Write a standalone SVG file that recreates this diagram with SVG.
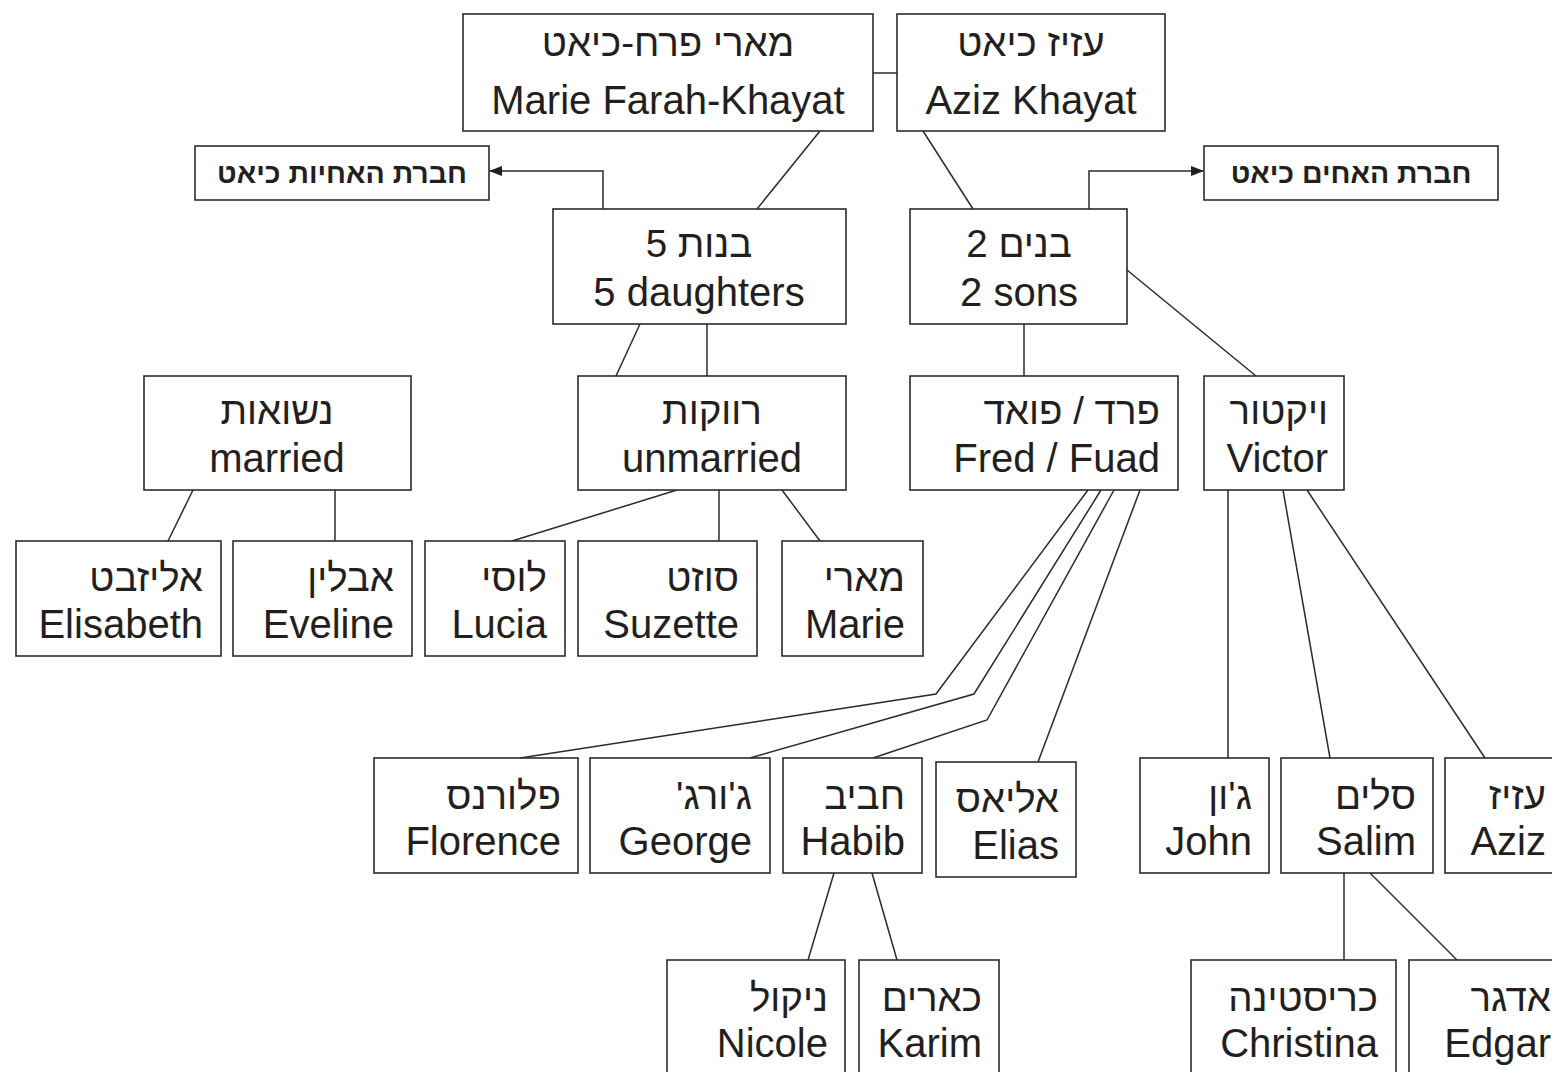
<svg xmlns="http://www.w3.org/2000/svg" width="1552" height="1072" viewBox="0 0 1552 1072">
<defs>
<style>
.b{fill:#fff;stroke:#2b2b2b;stroke-width:1.6}
.t{font-family:"Liberation Sans","Noto Sans",Arial,sans-serif;font-size:40px;fill:#231f20}
.h{font-size:38.5px}
.c{text-anchor:middle}
.e{text-anchor:end}
.k{font-family:"Liberation Sans","DejaVu Sans",Arial,sans-serif;font-size:28.5px;font-weight:bold;fill:#231f20;text-anchor:middle}
.l{fill:none;stroke:#2b2b2b;stroke-width:1.5}
</style>
<marker id="ar" markerWidth="13" markerHeight="10" refX="12" refY="5" orient="auto" markerUnits="userSpaceOnUse">
<path d="M0,0 L13,5 L0,10 Z" fill="#231f20"/>
</marker>
</defs>
<rect width="1552" height="1072" fill="#fff"/>
<g id="connectors">
<line class="l" x1="873" y1="73" x2="897" y2="73"/>
<line class="l" x1="820" y1="131" x2="757" y2="209"/>
<line class="l" x1="923" y1="131" x2="973" y2="209"/>
<polyline class="l" points="603,209 603,171 490,171" marker-end="url(#ar)"/>
<polyline class="l" points="1089,209 1089,171 1203,171" marker-end="url(#ar)"/>
<line class="l" x1="640" y1="324" x2="616" y2="376"/>
<line class="l" x1="707" y1="324" x2="707" y2="376"/>
<line class="l" x1="1024" y1="324" x2="1024" y2="376"/>
<line class="l" x1="1127" y1="270" x2="1256" y2="376"/>
<line class="l" x1="193" y1="490" x2="168" y2="541"/>
<line class="l" x1="335" y1="490" x2="335" y2="541"/>
<line class="l" x1="677" y1="490" x2="512" y2="541"/>
<line class="l" x1="719" y1="490" x2="719" y2="541"/>
<line class="l" x1="782" y1="490" x2="820" y2="541"/>
<polyline class="l" points="1088,490 936,694 520,758"/>
<polyline class="l" points="1101,490 974,694 750,758"/>
<polyline class="l" points="1114,490 987,720 873,758"/>
<line class="l" x1="1140" y1="490" x2="1038" y2="762"/>
<line class="l" x1="1228" y1="490" x2="1228" y2="758"/>
<line class="l" x1="1283" y1="490" x2="1330" y2="758"/>
<line class="l" x1="1307" y1="490" x2="1485" y2="758"/>
<line class="l" x1="834" y1="873" x2="808" y2="960"/>
<line class="l" x1="872" y1="873" x2="897" y2="960"/>
<line class="l" x1="1344" y1="873" x2="1344" y2="960"/>
<line class="l" x1="1370" y1="873" x2="1457" y2="960"/>
</g>
<g id="marie-farah-khayat">
<rect class="b" x="463" y="14" width="410" height="117"/>
<text class="t h c" x="668" y="56">מארי פרח-כיאט</text>
<text class="t c" x="668" y="114">Marie Farah-Khayat</text>
</g>
<g id="aziz-khayat">
<rect class="b" x="897" y="14" width="268" height="117"/>
<text class="t h c" x="1031" y="56">עזיז כיאט</text>
<text class="t c" x="1031" y="114">Aziz Khayat</text>
</g>
<g id="sisters-company">
<rect class="b" x="195" y="146" width="294" height="54"/>
<text class="k" x="342" y="183">חברת האחיות כיאט</text>
</g>
<g id="brothers-company">
<rect class="b" x="1204" y="146" width="294" height="54"/>
<text class="k" x="1351" y="183">חברת האחים כיאט</text>
</g>
<g id="daughters">
<rect class="b" x="553" y="209" width="293" height="115"/>
<text class="t h c" x="699" y="257">5 בנות</text>
<text class="t c" x="699" y="306">5 daughters</text>
</g>
<g id="sons">
<rect class="b" x="910" y="209" width="217" height="115"/>
<text class="t h c" x="1019" y="257">2 בנים</text>
<text class="t c" x="1019" y="306">2 sons</text>
</g>
<g id="married">
<rect class="b" x="144" y="376" width="267" height="114"/>
<text class="t h c" x="277" y="424">נשואות</text>
<text class="t c" x="277" y="472">married</text>
</g>
<g id="unmarried">
<rect class="b" x="578" y="376" width="268" height="114"/>
<text class="t h c" x="712" y="424">רווקות</text>
<text class="t c" x="712" y="472">unmarried</text>
</g>
<g id="fred-fuad">
<rect class="b" x="910" y="376" width="268" height="114"/>
<text class="t h e" x="1160" y="424">פרד / פואד</text>
<text class="t e" x="1160" y="472">Fred / Fuad</text>
</g>
<g id="victor">
<rect class="b" x="1204" y="376" width="140" height="114"/>
<text class="t h e" x="1328" y="424">ויקטור</text>
<text class="t e" x="1328" y="472">Victor</text>
</g>
<g id="elisabeth">
<rect class="b" x="16" y="541" width="205" height="115"/>
<text class="t h e" x="203" y="591">אליזבט</text>
<text class="t e" x="203" y="638">Elisabeth</text>
</g>
<g id="eveline">
<rect class="b" x="233" y="541" width="179" height="115"/>
<text class="t h e" x="394" y="591">אבלין</text>
<text class="t e" x="394" y="638">Eveline</text>
</g>
<g id="lucia">
<rect class="b" x="425" y="541" width="140" height="115"/>
<text class="t h e" x="547" y="591">לוסי</text>
<text class="t e" x="547" y="638">Lucia</text>
</g>
<g id="suzette">
<rect class="b" x="578" y="541" width="179" height="115"/>
<text class="t h e" x="739" y="591">סוזט</text>
<text class="t e" x="739" y="638">Suzette</text>
</g>
<g id="marie">
<rect class="b" x="782" y="541" width="141" height="115"/>
<text class="t h e" x="905" y="591">מארי</text>
<text class="t e" x="905" y="638">Marie</text>
</g>
<g id="florence">
<rect class="b" x="374" y="758" width="204" height="115"/>
<text class="t h e" x="561" y="809">פלורנס</text>
<text class="t e" x="561" y="855">Florence</text>
</g>
<g id="george">
<rect class="b" x="590" y="758" width="180" height="115"/>
<text class="t h e" x="752" y="809">ג'ורג'&#x200F;</text>
<text class="t e" x="752" y="855">George</text>
</g>
<g id="habib">
<rect class="b" x="783" y="758" width="139" height="115"/>
<text class="t h e" x="905" y="809">חביב</text>
<text class="t e" x="905" y="855">Habib</text>
</g>
<g id="elias">
<rect class="b" x="936" y="762" width="140" height="115"/>
<text class="t h e" x="1059" y="812">אליאס</text>
<text class="t e" x="1059" y="859">Elias</text>
</g>
<g id="john">
<rect class="b" x="1140" y="758" width="129" height="115"/>
<text class="t h e" x="1252" y="809">ג'ון</text>
<text class="t e" x="1252" y="855">John</text>
</g>
<g id="salim">
<rect class="b" x="1281" y="758" width="152" height="115"/>
<text class="t h e" x="1416" y="809">סלים</text>
<text class="t e" x="1416" y="855">Salim</text>
</g>
<g id="aziz">
<rect class="b" x="1445" y="758" width="140" height="115"/>
<text class="t h e" x="1546" y="809">עזיז</text>
<text class="t e" x="1546" y="855">Aziz</text>
</g>
<g id="nicole">
<rect class="b" x="667" y="960" width="178" height="120"/>
<text class="t h e" x="828" y="1011">ניקול</text>
<text class="t e" x="828" y="1057">Nicole</text>
</g>
<g id="karim">
<rect class="b" x="859" y="960" width="140" height="120"/>
<text class="t h e" x="982" y="1011">כארים</text>
<text class="t e" x="982" y="1057">Karim</text>
</g>
<g id="christina">
<rect class="b" x="1191" y="960" width="205" height="120"/>
<text class="t h e" x="1378" y="1011">כריסטינה</text>
<text class="t e" x="1378" y="1057">Christina</text>
</g>
<g id="edgar">
<rect class="b" x="1409" y="960" width="180" height="120"/>
<text class="t h e" x="1551" y="1011">אדגר</text>
<text class="t e" x="1551" y="1057">Edgar</text>
</g>
</svg>
